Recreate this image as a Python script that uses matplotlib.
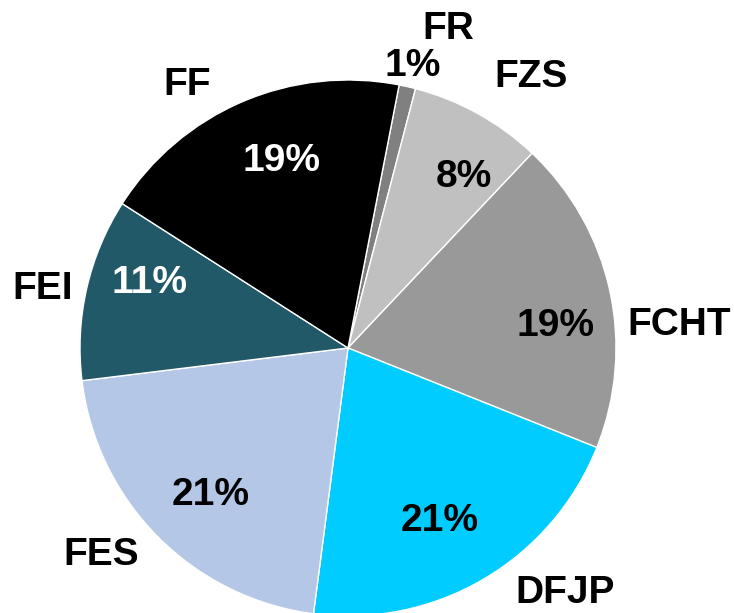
import matplotlib
matplotlib.use("Agg")
import matplotlib.pyplot as plt
import numpy as np
from matplotlib import font_manager

labels = ["FR", "FZS", "FCHT", "DFJP", "FES", "FEI", "FF"]
values = [1, 8, 19, 21, 21, 11, 19]
colors = ["#808080", "#C0C0C0", "#999999", "#00CCFF", "#B4C7E7", "#215968", "#000000"]
pct_colors = ["black", "black", "black", "black", "black", "white", "white"]

# layout: outer label (angle deg, radius) and pct label (angle, radius)
label_pos = [(72.5, 1.25), (56, 1.22), (4, 1.24), (-48.5, 1.22), (-140, 1.20), (169, 1.16), (121.5, 1.15)]
pct_pos = [(77, 1.08), (56, 0.77), (6, 0.78), (-62, 0.73), (-133, 0.75), (162, 0.78), (109.5, 0.74)]

names = {f.name for f in font_manager.fontManager.ttflist}
fam = ["Liberation Sans Narrow"] if "Liberation Sans Narrow" in names else ["Liberation Sans"]
plt.rcParams["font.family"] = fam + ["DejaVu Sans"]

fig = plt.figure(figsize=(7.34, 6.13), dpi=100)
ax = fig.add_axes([0, 0, 1, 1])
R = 268.0
cx, cy = 348.0, 348.0
ax.pie(values, colors=colors, startangle=79, counterclock=False, radius=1,
       wedgeprops=dict(edgecolor="white", linewidth=1.0))
ax.set_xlim(-cx / R, (734 - cx) / R)
ax.set_ylim(-(613 - cy) / R, cy / R)
ax.set_aspect("equal")
ax.axis("off")

fs = 28
for lab, (a, r) in zip(labels, label_pos):
    t = np.deg2rad(a)
    ax.text(r * np.cos(t), r * np.sin(t), lab, ha="center", va="center",
            fontsize=fs, fontweight="bold", color="black")
for v, c, (a, r) in zip(values, pct_colors, pct_pos):
    t = np.deg2rad(a)
    ax.text(r * np.cos(t), r * np.sin(t), f"{v}%", ha="center", va="center",
            fontsize=fs, fontweight="bold", color=c)

fig.savefig("out.png", dpi=100, facecolor="white")
